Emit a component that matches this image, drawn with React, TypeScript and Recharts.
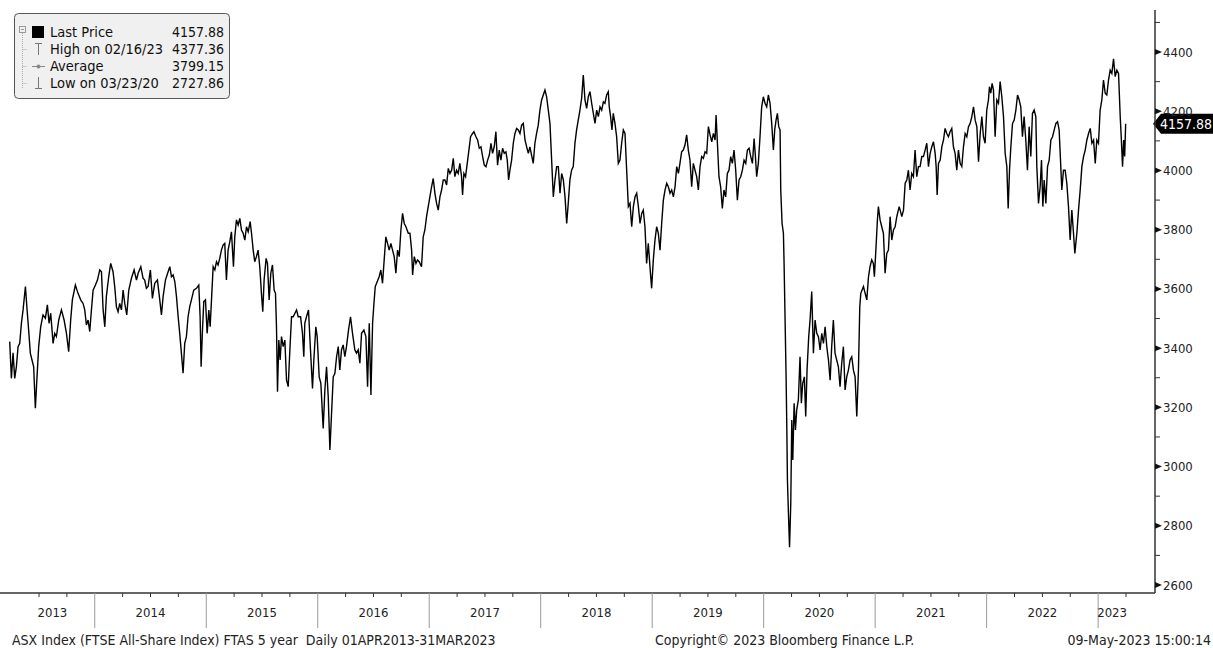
import React from 'react';
import { LineChart, Line, XAxis, YAxis, ReferenceLine } from 'recharts';

const FONT = '"DejaVu Sans Condensed", "DejaVu Sans", sans-serif';

// sample dates as decimal years
const dates = [
  2013.237, 2013.252, 2013.267, 2013.282, 2013.297, 2013.312, 2013.327, 2013.342, 2013.357, 2013.378,
  2013.393, 2013.407, 2013.422, 2013.437, 2013.452, 2013.467, 2013.482, 2013.497, 2013.515, 2013.536,
  2013.557, 2013.575, 2013.590, 2013.605, 2013.626, 2013.641, 2013.656, 2013.677, 2013.701, 2013.725,
  2013.746, 2013.766, 2013.784, 2013.799, 2013.826, 2013.850, 2013.874, 2013.895, 2013.910, 2013.925,
  2013.940, 2013.955, 2013.970, 2013.985, 2014.006, 2014.024, 2014.045, 2014.060, 2014.075, 2014.090,
  2014.104, 2014.125, 2014.143, 2014.164, 2014.179, 2014.194, 2014.209, 2014.224, 2014.239, 2014.254,
  2014.269, 2014.287, 2014.305, 2014.329, 2014.353, 2014.374, 2014.389, 2014.413, 2014.433, 2014.448,
  2014.463, 2014.478, 2014.499, 2014.517, 2014.538, 2014.562, 2014.583, 2014.598, 2014.613, 2014.634,
  2014.658, 2014.673, 2014.688, 2014.703, 2014.718, 2014.733, 2014.748, 2014.762, 2014.777, 2014.792,
  2014.807, 2014.822, 2014.837, 2014.852, 2014.867, 2014.888, 2014.912, 2014.933, 2014.945, 2014.954,
  2014.966, 2014.978, 2014.993, 2015.008, 2015.023, 2015.035, 2015.047, 2015.062, 2015.077, 2015.092,
  2015.106, 2015.121, 2015.136, 2015.151, 2015.166, 2015.181, 2015.196, 2015.211, 2015.226, 2015.244,
  2015.256, 2015.271, 2015.286, 2015.301, 2015.316, 2015.331, 2015.346, 2015.361, 2015.376, 2015.394,
  2015.406, 2015.421, 2015.435, 2015.450, 2015.465, 2015.480, 2015.495, 2015.507, 2015.519, 2015.537,
  2015.549, 2015.564, 2015.579, 2015.594, 2015.609, 2015.621, 2015.630, 2015.639, 2015.651, 2015.663,
  2015.675, 2015.690, 2015.705, 2015.720, 2015.735, 2015.750, 2015.765, 2015.780, 2015.810, 2015.825,
  2015.846, 2015.863, 2015.875, 2015.884, 2015.899, 2015.917, 2015.935, 2015.953, 2015.965, 2015.983,
  2015.995, 2016.013, 2016.028, 2016.049, 2016.064, 2016.079, 2016.094, 2016.109, 2016.124, 2016.139,
  2016.154, 2016.169, 2016.184, 2016.198, 2016.213, 2016.228, 2016.243, 2016.258, 2016.276, 2016.294,
  2016.312, 2016.333, 2016.348, 2016.363, 2016.378, 2016.393, 2016.414, 2016.432, 2016.447, 2016.462,
  2016.477, 2016.492, 2016.504, 2016.516, 2016.534, 2016.551, 2016.566, 2016.581, 2016.596, 2016.611,
  2016.626, 2016.641, 2016.656, 2016.671, 2016.686, 2016.701, 2016.716, 2016.731, 2016.746, 2016.761,
  2016.776, 2016.791, 2016.812, 2016.827, 2016.842, 2016.851, 2016.866, 2016.881, 2016.895, 2016.910,
  2016.931, 2016.946, 2016.961, 2016.976, 2016.991, 2017.006, 2017.021, 2017.036, 2017.051, 2017.066,
  2017.081, 2017.096, 2017.111, 2017.126, 2017.141, 2017.156, 2017.171, 2017.186, 2017.201, 2017.216,
  2017.230, 2017.245, 2017.260, 2017.275, 2017.290, 2017.299, 2017.311, 2017.326, 2017.341, 2017.356,
  2017.371, 2017.389, 2017.401, 2017.419, 2017.434, 2017.449, 2017.464, 2017.479, 2017.494, 2017.509,
  2017.524, 2017.539, 2017.554, 2017.568, 2017.583, 2017.598, 2017.613, 2017.628, 2017.643, 2017.658,
  2017.673, 2017.688, 2017.700, 2017.712, 2017.724, 2017.739, 2017.754, 2017.769, 2017.784, 2017.799,
  2017.814, 2017.829, 2017.844, 2017.859, 2017.874, 2017.889, 2017.903, 2017.918, 2017.933, 2017.948,
  2017.963, 2017.978, 2017.993, 2018.008, 2018.023, 2018.038, 2018.053, 2018.068, 2018.083, 2018.098,
  2018.113, 2018.128, 2018.143, 2018.158, 2018.173, 2018.188, 2018.203, 2018.218, 2018.233, 2018.247,
  2018.262, 2018.277, 2018.292, 2018.307, 2018.322, 2018.352, 2018.367, 2018.382, 2018.397, 2018.412,
  2018.427, 2018.442, 2018.457, 2018.472, 2018.487, 2018.502, 2018.517, 2018.532, 2018.547, 2018.562,
  2018.576, 2018.591, 2018.606, 2018.615, 2018.627, 2018.639, 2018.651, 2018.666, 2018.681, 2018.696,
  2018.711, 2018.726, 2018.741, 2018.756, 2018.771, 2018.786, 2018.801, 2018.816, 2018.831, 2018.846,
  2018.861, 2018.876, 2018.891, 2018.906, 2018.920, 2018.935, 2018.950, 2018.965, 2018.980, 2018.995,
  2019.010, 2019.025, 2019.040, 2019.055, 2019.070, 2019.085, 2019.100, 2019.115, 2019.130, 2019.145,
  2019.160, 2019.175, 2019.190, 2019.205, 2019.220, 2019.235, 2019.249, 2019.264, 2019.279, 2019.294,
  2019.309, 2019.324, 2019.339, 2019.354, 2019.369, 2019.384, 2019.399, 2019.414, 2019.429, 2019.444,
  2019.459, 2019.474, 2019.489, 2019.504, 2019.519, 2019.534, 2019.549, 2019.564, 2019.573, 2019.585,
  2019.599, 2019.614, 2019.629, 2019.644, 2019.659, 2019.674, 2019.689, 2019.704, 2019.719, 2019.734,
  2019.749, 2019.764, 2019.779, 2019.794, 2019.809, 2019.824, 2019.839, 2019.854, 2019.869, 2019.884,
  2019.899, 2019.914, 2019.926, 2019.937, 2019.952, 2019.967, 2019.982, 2019.997, 2020.012, 2020.027,
  2020.042, 2020.057, 2020.072, 2020.087, 2020.099, 2020.111, 2020.123, 2020.135, 2020.147, 2020.153,
  2020.165, 2020.177, 2020.183, 2020.192, 2020.201, 2020.207, 2020.213, 2020.222, 2020.232, 2020.243,
  2020.252, 2020.261, 2020.273, 2020.285, 2020.296, 2020.311, 2020.326, 2020.338, 2020.350, 2020.365,
  2020.377, 2020.389, 2020.404, 2020.416, 2020.431, 2020.446, 2020.461, 2020.476, 2020.491, 2020.506,
  2020.521, 2020.536, 2020.551, 2020.566, 2020.581, 2020.596, 2020.610, 2020.625, 2020.640, 2020.655,
  2020.670, 2020.685, 2020.700, 2020.715, 2020.730, 2020.745, 2020.760, 2020.775, 2020.790, 2020.805,
  2020.820, 2020.835, 2020.850, 2020.862, 2020.871, 2020.895, 2020.910, 2020.925, 2020.940, 2020.954,
  2020.969, 2020.984, 2020.993, 2021.008, 2021.020, 2021.029, 2021.044, 2021.059, 2021.074, 2021.089,
  2021.104, 2021.119, 2021.134, 2021.149, 2021.164, 2021.179, 2021.194, 2021.215, 2021.224, 2021.239,
  2021.254, 2021.269, 2021.284, 2021.298, 2021.313, 2021.328, 2021.343, 2021.358, 2021.373, 2021.388,
  2021.403, 2021.418, 2021.433, 2021.448, 2021.463, 2021.478, 2021.493, 2021.508, 2021.523, 2021.538,
  2021.547, 2021.556, 2021.568, 2021.583, 2021.598, 2021.613, 2021.627, 2021.642, 2021.657, 2021.672,
  2021.687, 2021.702, 2021.717, 2021.732, 2021.747, 2021.762, 2021.777, 2021.792, 2021.807, 2021.822,
  2021.837, 2021.852, 2021.867, 2021.882, 2021.897, 2021.912, 2021.927, 2021.942, 2021.957, 2021.971,
  2021.986, 2022.001, 2022.016, 2022.025, 2022.037, 2022.049, 2022.061, 2022.076, 2022.091, 2022.106,
  2022.121, 2022.136, 2022.151, 2022.166, 2022.181, 2022.193, 2022.205, 2022.217, 2022.232, 2022.247,
  2022.262, 2022.277, 2022.292, 2022.306, 2022.321, 2022.336, 2022.351, 2022.366, 2022.381, 2022.396,
  2022.411, 2022.426, 2022.441, 2022.450, 2022.465, 2022.480, 2022.492, 2022.504, 2022.516, 2022.531,
  2022.546, 2022.561, 2022.576, 2022.591, 2022.606, 2022.621, 2022.636, 2022.650, 2022.665, 2022.674,
  2022.689, 2022.704, 2022.719, 2022.734, 2022.749, 2022.764, 2022.779, 2022.791, 2022.809, 2022.824,
  2022.839, 2022.854, 2022.869, 2022.884, 2022.899, 2022.914, 2022.929, 2022.944, 2022.959, 2022.974,
  2022.988, 2023.003, 2023.018, 2023.033, 2023.048, 2023.063, 2023.078, 2023.093, 2023.108, 2023.123,
  2023.138, 2023.153, 2023.168, 2023.183, 2023.198, 2023.207, 2023.219, 2023.229, 2023.238, 2023.247,
];

const prices = [
  3422, 3298, 3384, 3298, 3337, 3405, 3416, 3484, 3529, 3608,
  3529, 3461, 3383, 3360, 3337, 3197, 3303, 3405, 3472, 3512,
  3501, 3546, 3484, 3518, 3416, 3450, 3439, 3495, 3529, 3495,
  3450, 3388, 3495, 3563, 3613, 3585, 3563, 3551, 3529, 3478,
  3495, 3456, 3529, 3596, 3613, 3630, 3664, 3658, 3529, 3472,
  3574, 3641, 3686, 3658, 3608, 3540, 3523, 3551, 3529, 3596,
  3551, 3512, 3596, 3636, 3664, 3630, 3653, 3675, 3636, 3630,
  3602, 3608, 3664, 3568, 3619, 3630, 3563, 3512, 3574, 3630,
  3658, 3675, 3641, 3647, 3625, 3574, 3506, 3450, 3383, 3315,
  3416, 3439, 3506, 3540, 3563, 3596, 3602, 3613, 3506, 3337,
  3461, 3557, 3563, 3450, 3529, 3472, 3563, 3675, 3664, 3692,
  3681, 3703, 3731, 3748, 3754, 3630, 3731, 3759, 3793, 3675,
  3776, 3833, 3816, 3838, 3799, 3788, 3765, 3810, 3793, 3827,
  3788, 3731, 3692, 3709, 3731, 3675, 3585, 3523, 3630, 3703,
  3686, 3563, 3653, 3681, 3596, 3585, 3472, 3253, 3427, 3360,
  3439, 3405, 3427, 3292, 3270, 3394, 3506, 3506, 3529, 3506,
  3506, 3450, 3371, 3484, 3506, 3529, 3394, 3264, 3360, 3472,
  3439, 3303, 3281, 3129, 3259, 3337, 3236, 3056, 3180, 3303,
  3315, 3371, 3405, 3326, 3394, 3411, 3371, 3405, 3461, 3506,
  3450, 3394, 3383, 3394, 3349, 3450, 3461, 3439, 3270, 3484,
  3242, 3484, 3551, 3608, 3625, 3641, 3664, 3619, 3698, 3776,
  3754, 3731, 3754, 3731, 3709, 3653, 3731, 3709, 3799, 3855,
  3821, 3810, 3788, 3788, 3731, 3647, 3709, 3686, 3698, 3692,
  3675, 3776, 3799, 3844, 3878, 3911, 3945, 3973, 3923, 3889,
  3866, 3911, 3934, 3968, 3968, 3951, 4007, 3990, 4001, 4041,
  3979, 4001, 3990, 4024, 3979, 3917, 3990, 3979, 4024, 4069,
  4114, 4125, 4131, 4114, 4103, 4075, 4080, 4047, 4018, 4013,
  4035, 4052, 4092, 4058, 4080, 4131, 4018, 4069, 4035, 4075,
  4058, 4063, 4035, 3968, 4001, 4035, 4092, 4125, 4142, 4137,
  4125, 4153, 4159, 4103, 4080, 4058, 4080, 4052, 4024, 4092,
  4125, 4153, 4204, 4238, 4255, 4272, 4249, 4204, 4159, 4035,
  3911, 3968, 4013, 4013, 3923, 3990, 3968, 3911, 3821, 3889,
  3968, 4001, 4013, 4092, 4137, 4204, 4244, 4322, 4238, 4210,
  4249, 4266, 4227, 4193, 4159, 4204, 4182, 4215, 4204, 4232,
  4227, 4255, 4266, 4215, 4182, 4137, 4193, 4159, 4114, 4024,
  4035, 4092, 4137, 4125, 4001, 3878, 3889, 3810, 3878, 3911,
  3923, 3878, 3821, 3855, 3866, 3810, 3686, 3754, 3675, 3602,
  3698, 3765, 3810, 3788, 3731, 3821, 3900, 3934, 3957, 3945,
  3923, 3934, 3911, 3945, 4013, 3990, 4024, 4063, 4069, 4086,
  4120, 4069, 4035, 3945, 4024, 4001, 3979, 3934, 4013, 4047,
  4041, 4063, 4058, 4148, 4120, 4097, 4125, 4103, 4187, 4092,
  3979, 3945, 3872, 3934, 3911, 3990, 4001, 4047, 4024, 4069,
  4001, 3900, 3968, 3979, 4001, 4035, 4024, 4069, 4075, 4047,
  4024, 4108, 4047, 3979, 4024, 4114, 4215, 4249, 4227, 4215,
  4255, 4227, 4159, 4069, 4137, 4170, 4193, 4148, 4137, 3934,
  3821, 3788, 3686, 3495, 3303, 3146, 2955, 2842, 2727.86, 2876,
  3157, 3022, 3214, 3124, 3191, 3225, 3371, 3214, 3281, 3303,
  3169, 3326, 3439, 3495, 3591, 3383, 3495, 3450, 3439, 3394,
  3450, 3416, 3472, 3405, 3360, 3292, 3405, 3495, 3383, 3360,
  3337, 3270, 3349, 3405, 3259, 3303, 3326, 3360, 3371, 3326,
  3303, 3169, 3326, 3540, 3585, 3608, 3585, 3563, 3641, 3675,
  3698, 3686, 3641, 3743, 3833, 3878, 3833, 3810, 3788, 3653,
  3720, 3731, 3844, 3765, 3799, 3810, 3844, 3878, 3866, 3844,
  3866, 3957, 3968, 4001, 3934, 3990, 3979, 4069, 3979, 4013,
  4013, 4047, 4047, 4069, 4092, 4013, 4058, 4080, 4097, 4058,
  4013, 3917, 4024, 4035, 4080, 4103, 4142, 4125, 4114, 4131,
  4142, 4080, 4058, 4001, 4069, 4024, 4013, 4080, 4125, 4114,
  4148, 4159, 4182, 4215, 4170, 4148, 4030, 4125, 4182, 4114,
  4092, 4204, 4238, 4283, 4261, 4294, 4272, 4114, 4238, 4227,
  4300, 4249, 4182, 4058, 4013, 3872, 4001, 4080, 4159, 4170,
  4204, 4255, 4238, 4215, 4114, 4182, 4103, 4001, 4148, 4047,
  4193, 4204, 4182, 4013, 3889, 3945, 4035, 3878, 3968, 3889,
  4013, 4035, 4103, 4114, 4137, 4159, 4165, 4137, 4013, 3934,
  4001, 4001, 3957, 3878, 3765, 3866, 3788, 3720, 3788, 3866,
  3934, 4013, 4047, 4069, 4103, 4125, 4142, 4092, 4103, 4024,
  4103, 4092, 4204, 4238, 4305, 4261, 4255, 4305, 4339, 4328,
  4377.36, 4317, 4339, 4328, 4182, 4114, 4013, 4103, 4047, 4157.88,
];

const yearLabels = ['2013', '2014', '2015', '2016', '2017', '2018', '2019', '2020', '2021', '2022', '2023'];
const yearLabelAt = [2013.62, 2014.5, 2015.5, 2016.5, 2017.5, 2018.5, 2019.5, 2020.5, 2021.5, 2022.5, 2023.125];
const quarterTicks = [
  2013.5, 2013.75, 2014, 2014.25, 2014.5, 2014.75, 2015, 2015.25, 2015.5, 2015.75,
  2016, 2016.25, 2016.5, 2016.75, 2017, 2017.25, 2017.5, 2017.75, 2018, 2018.25,
  2018.5, 2018.75, 2019, 2019.25, 2019.5, 2019.75, 2020, 2020.25, 2020.5, 2020.75,
  2021, 2021.25, 2021.5, 2021.75, 2022, 2022.25, 2022.5, 2022.75, 2023, 2023.25,
];
const priceTicks = [2600, 2700, 2800, 2900, 3000, 3100, 3200, 3300, 3400, 3500, 3600, 3700, 3800, 3900, 4000, 4100, 4200, 4300, 4400, 4500];

const lastPrice = 4157.88;
const legendRows = [
  { label: 'Last Price', value: '4157.88' },
  { label: 'High on 02/16/23', value: '4377.36' },
  { label: 'Average', value: '3799.15' },
  { label: 'Low on 03/23/20', value: '2727.86' },
];
const footerLeft = 'ASX Index (FTSE All-Share Index) FTAS 5 year  Daily 01APR2013-31MAR2023';
const footerMid = 'Copyright\u00a9 2023 Bloomberg Finance L.P.';
const footerRight = '09-May-2023 15:00:14';

const data = dates.map((d, i) => ({ d, v: prices[i] }));
const xTicks = Array.from(new Set([...quarterTicks, ...yearLabelAt])).sort((a, b) => a - b);

const renderXTick = (props: any) => {
  const { x, y, payload } = props;
  const v = payload.value as number;
  const li = yearLabelAt.indexOf(v);
  const isQ = quarterTicks.includes(v);
  const boundary = isQ && Number.isInteger(v);
  return (
    <g>
      {boundary && <line x1={x} x2={x} y1={y} y2={y + 35} stroke="#9a9a9a" strokeWidth={1} />}
      {isQ && !boundary && <line x1={x} x2={x} y1={y} y2={y + 4} stroke="#333" strokeWidth={1} />}
      {li >= 0 && (
        <text x={x} y={y + 24} textAnchor="middle" fontSize={13} fontFamily={FONT} fill="#222">
          {yearLabels[li]}
        </text>
      )}
    </g>
  );
};

const renderYTick = (props: any) => {
  const { x, y, payload } = props;
  const v = payload.value as number;
  if (v % 200 !== 0) {
    return <line x1={x} x2={x + 5} y1={y} y2={y} stroke="#333" strokeWidth={1} />;
  }
  return (
    <g>
      <polygon points={`${x},${y - 3} ${x + 7},${y} ${x},${y + 3}`} fill="#111" />
      <text x={x + 8} y={y + 4.5} fontSize={13} fontFamily={FONT} fill="#222">
        {v}
      </text>
    </g>
  );
};

const LastTag = (props: any) => {
  const vb = props.viewBox || {};
  const tx = (vb.x || 0) + (vb.width || 0) - 2;
  const ty = vb.y || 0;
  return (
    <g>
      <path d={`M${tx},${ty} L${tx + 8},${ty - 10} L1213,${ty - 10} L1213,${ty + 10} L${tx + 8},${ty + 10} Z`} fill="#000" />
      <text x={tx + 7} y={ty + 5} fontSize={14} fontFamily={FONT} fill="#fff">
        {lastPrice.toFixed(2)}
      </text>
    </g>
  );
};

const LegendBox = () => (
  <g fontFamily={FONT}>
    <rect x={14.5} y={13.5} width={215} height={85} rx={4} fill="#f0f0f0" stroke="#555" />
    <rect x={19.5} y={26.5} width={6} height={6} fill="none" stroke="#999" />
    <line x1={21} x2={24} y1={29.5} y2={29.5} stroke="#999" />
    <line x1={22.5} x2={22.5} y1={33} y2={88} stroke="#aaa" strokeDasharray="1 1" />
    {[49.5, 66.5, 83.5].map((yy) => (
      <line key={yy} x1={22.5} x2={27} y1={yy} y2={yy} stroke="#aaa" strokeDasharray="1 1" />
    ))}
    <rect x={32} y={26} width={12} height={12} fill="#000" />
    <line x1={35} x2={42} y1={43.5} y2={43.5} stroke="#777" />
    <line x1={38.5} x2={38.5} y1={43.5} y2={55} stroke="#777" />
    <line x1={32} x2={45} y1={66.5} y2={66.5} stroke="#888" />
    <circle cx={38.5} cy={66.5} r={2} fill="#888" />
    <line x1={38.5} x2={38.5} y1={77} y2={88.5} stroke="#777" />
    <line x1={35} x2={42} y1={88.5} y2={88.5} stroke="#777" />
    {legendRows.map((r, i) => (
      <g key={r.label}>
        <text x={50} y={37 + i * 17} fontSize={14.5} fill="#111">{r.label}</text>
        <text x={224} y={37 + i * 17} fontSize={14} fill="#111" textAnchor="end">{r.value}</text>
      </g>
    ))}
  </g>
);

export default function App() {
  return (
    <div style={{ position: 'absolute', left: 0, top: 0, width: 1213, height: 648, background: '#fff' }}>
      <LineChart width={1213} height={648} data={data} margin={{ top: 10, right: 0, bottom: 0, left: 0 }}>
        <XAxis
          dataKey="d"
          type="number"
          scale="linear"
          domain={[2013.15, 2023.51]}
          allowDataOverflow
          ticks={xTicks}
          interval={0}
          tick={renderXTick}
          tickLine={false}
          tickSize={0}
          tickMargin={0}
          height={55}
          axisLine={{ stroke: '#333', strokeWidth: 1.5 }}
        />
        <YAxis
          orientation="right"
          type="number"
          domain={[2573, 4542]}
          allowDataOverflow
          ticks={priceTicks}
          interval={0}
          tick={renderYTick}
          tickLine={false}
          tickSize={0}
          tickMargin={0}
          width={58}
          axisLine={{ stroke: '#333', strokeWidth: 1.5 }}
        />
        <Line
          dataKey="v"
          type="linear"
          stroke="#000"
          strokeWidth={1.4}
          dot={false}
          activeDot={false}
          isAnimationActive={false}
        />
        <ReferenceLine y={lastPrice} stroke="none" ifOverflow="visible" label={<LastTag />} />
      </LineChart>
      <svg width={1213} height={648} style={{ position: 'absolute', left: 0, top: 0, pointerEvents: 'none' }}>
        <LegendBox />
        <g fontFamily={FONT} fontSize={14} fill="#222">
          <text x={12} y={645} style={{ whiteSpace: 'pre' }}>{footerLeft}</text>
          <text x={655} y={645}>{footerMid}</text>
          <text x={1211} y={645} textAnchor="end">{footerRight}</text>
        </g>
      </svg>
    </div>
  );
}
